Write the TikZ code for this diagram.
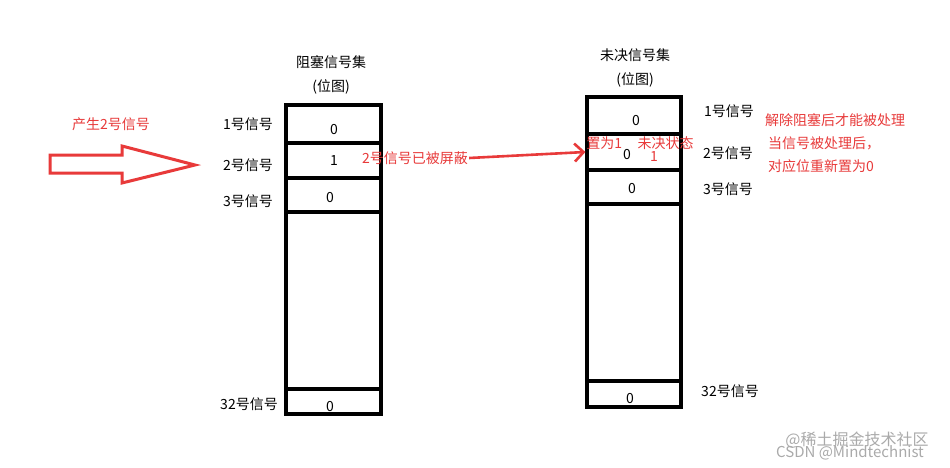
\documentclass[tikz,border=0pt]{standalone}
\usepackage{fontspec}
\setmainfont{Noto Sans CJK SC}
\usetikzlibrary{arrows.meta}
\definecolor{hintred}{RGB}{232,58,58}
\definecolor{wmgray}{RGB}{170,170,170}
\tikzset{
  cell/.style={draw, line width=3.2pt, minimum width=95pt, inner sep=0pt},
  lbl/.style={font=\fontsize{14}{16}\selectfont},
  note/.style={font=\fontsize{14}{16}\selectfont, text=hintred, inner sep=1pt},
}
\begin{document}
\begin{tikzpicture}[x=1pt, y=-1pt]
  \useasboundingbox[fill=white] (0,0) rectangle (950,468);
  % blocked set
  \node (bt1) at (331,62) [lbl] {阻塞信号集};
  \node (bt2) at (331,87) [lbl] {(位图)};
  \node (b1) at (333.5,124) [cell, minimum height=38pt] {};
  \node (b2) at (333.5,160.5) [cell, minimum height=35pt] {};
  \node (b3) at (333.5,195) [cell, minimum height=34pt] {};
  \node (bx) at (333.5,300.5) [cell, minimum height=177pt] {};
  \node (b32) at (333.5,401.5) [cell, minimum height=25pt] {};
  \node (bv1) at (334,130) [lbl] {0};
  \node (bv2) at (334,161) [lbl] {1};
  \node (bv3) at (330,198) [lbl] {0};
  \node (bv32) at (330,407) [lbl] {0};
  \node (bl1) at (248,124) [lbl] {1号信号};
  \node (bl2) at (248,165) [lbl] {2号信号};
  \node (bl3) at (248,201) [lbl] {3号信号};
  \node (bl32) at (249,404) [lbl] {32号信号};
  % pending set
  \node (pt1) at (635,55) [lbl] {未决信号集};
  \node (pt2) at (635,80) [lbl] {(位图)};
  \node (p1) at (634,115.5) [cell, minimum height=37pt, minimum width=94pt] {};
  \node (p2) at (634,152) [cell, minimum height=36pt, minimum width=94pt] {};
  \node (p3) at (634,187) [cell, minimum height=34pt, minimum width=94pt] {};
  \node (px) at (634,292.5) [cell, minimum height=177pt, minimum width=94pt] {};
  \node (p32) at (634,394) [cell, minimum height=26pt, minimum width=94pt] {};
  \node (pv1) at (636,121) [lbl] {0};
  \node (pv2) at (627,155) [lbl] {0};
  \node (pv2b) at (654,157) [note] {1};
  \node (pv3) at (632,189) [lbl] {0};
  \node (pv32) at (630,399) [lbl] {0};
  \node (pl1) at (729,111) [lbl] {1号信号};
  \node (pl2) at (728,153) [lbl] {2号信号};
  \node (pl3) at (728,189) [lbl] {3号信号};
  \node (pl32) at (730,391) [lbl] {32号信号};
  % red notes
  \node (gen) at (111,124) [note] {产生2号信号};
  \draw[hintred, line width=3pt, line join=miter]
    (50,155) -- (122,155) -- (122,146) -- (195,165) -- (122,183) -- (122,173) -- (50,173) -- cycle;
  \node (mask) at (415,158) [note] {2号信号已被屏蔽};
  \node (set1) at (640,143) [note] {置为1\hspace{1.1em}未决状态};
  \node (n1) at (764,120) [note, anchor=west] {解除阻塞后才能被处理};
  \node (n2) at (767,143) [note, anchor=west] {当信号被处理后，};
  \node (n3) at (767,166) [note, anchor=west] {对应位重新置为0};
    \draw[hintred, line width=2.6pt, -{Straight Barb[length=9pt, width=18pt]}] (mask.east) -- (p2.west);
  % watermark
  \node (wm1) at (857,440) [font=\fontsize{16}{18}\selectfont, text=wmgray] {@稀土掘金技术社区};
  \node (wm2) at (850,453) [font=\fontsize{15}{17}\selectfont, text=wmgray] {CSDN @Mindtechnist};
\end{tikzpicture}
\end{document}
